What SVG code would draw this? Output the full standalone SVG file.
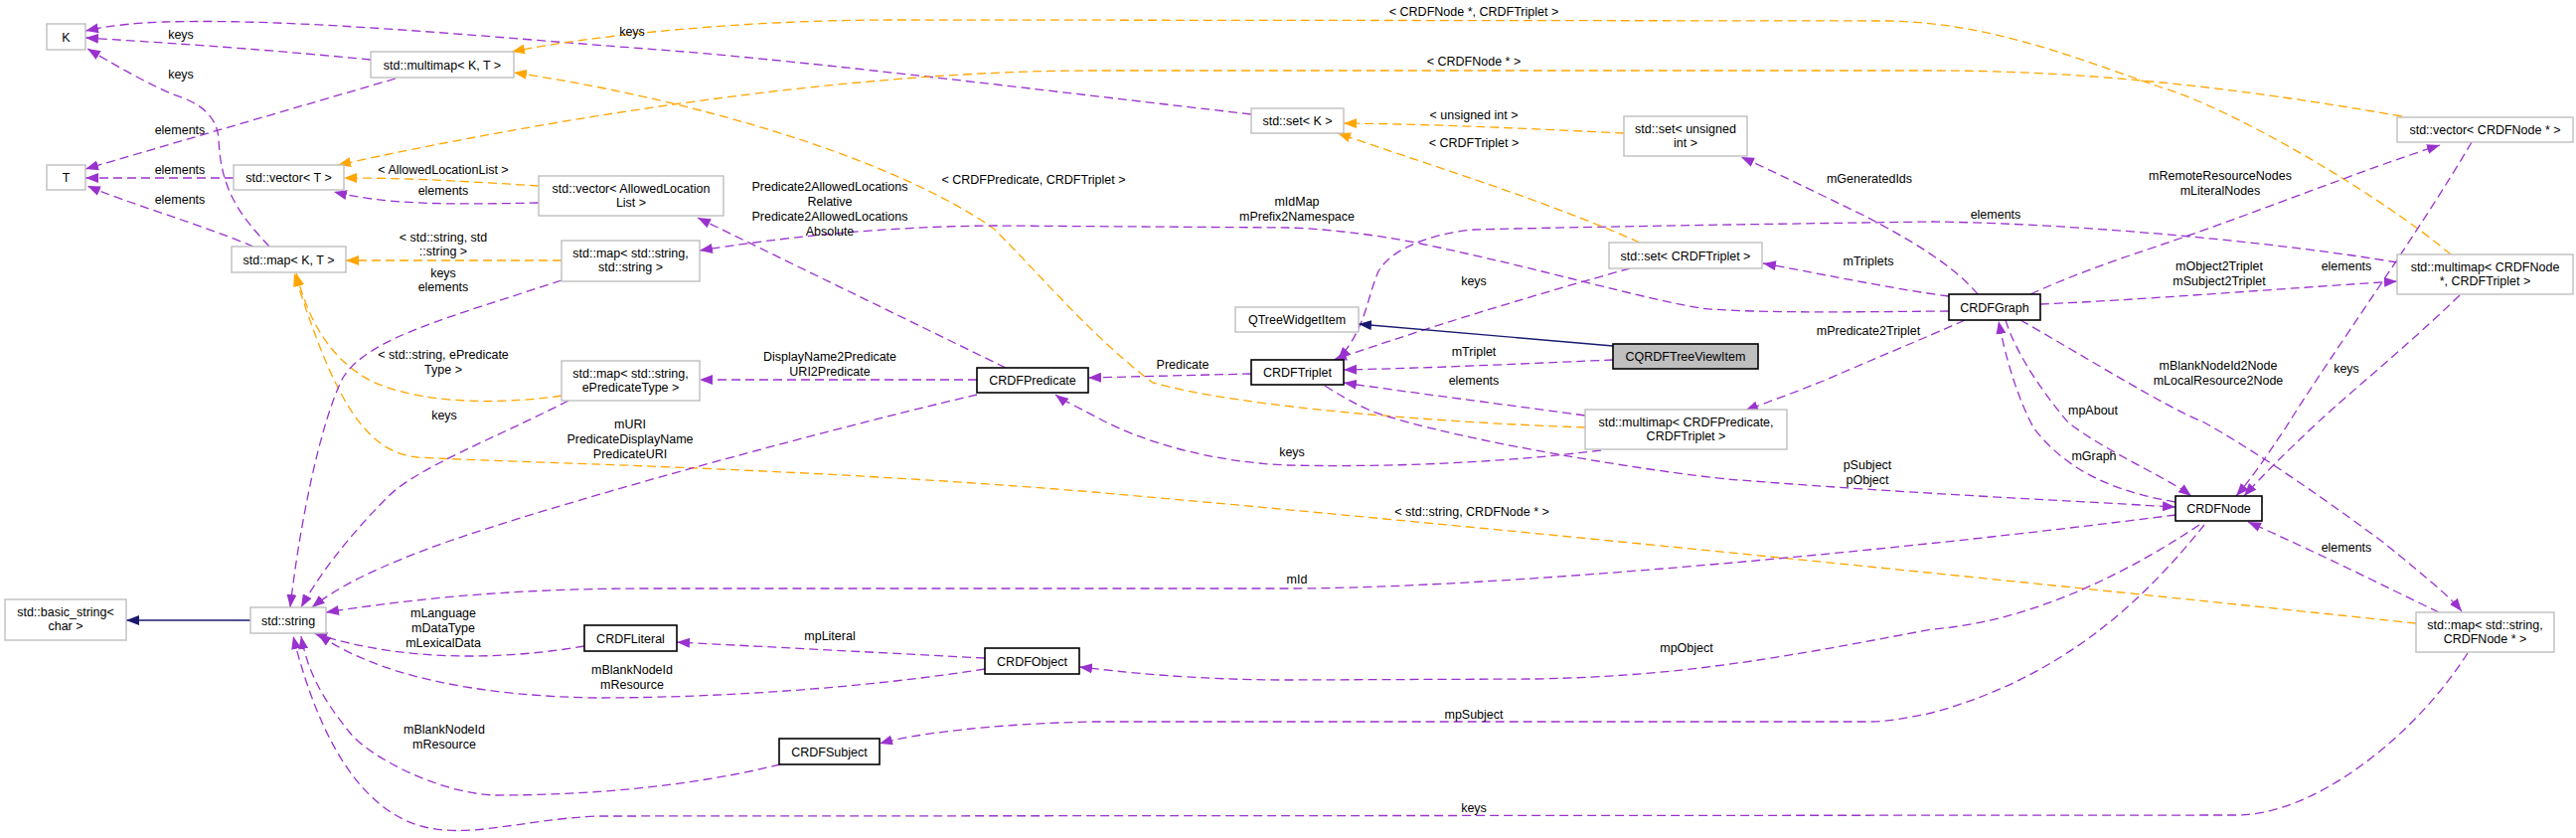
<svg xmlns="http://www.w3.org/2000/svg" width="2592" height="843" viewBox="0 0 2592 843">
<style>
text{font-family:"Liberation Sans",Arial,Helvetica,sans-serif;font-size:12.5px;fill:#000}
.nt{text-anchor:middle}
.lbl{text-anchor:middle}
.bx{fill:#fff;stroke:#bfbfbf;stroke-width:1.4}
.bd{fill:#fff;stroke:#000;stroke-width:1.6}
.bs{fill:#bfbfbf;stroke:#000;stroke-width:1.6}
.p{fill:none;stroke:#9a32cd;stroke-width:1.3;stroke-dasharray:9,5;marker-end:url(#ap)}
.o{fill:none;stroke:#ffa500;stroke-width:1.3;stroke-dasharray:9,5;marker-end:url(#ao)}
.b{fill:none;stroke:#191970;stroke-width:1.4;marker-end:url(#ab)}
</style>
<defs>
<marker id="ap" viewBox="0 0 13 10" refX="13" refY="5" markerWidth="13" markerHeight="10" markerUnits="userSpaceOnUse" orient="auto"><path d="M0,0 L13,5 L0,10 z" fill="#9a32cd"/></marker>
<marker id="ao" viewBox="0 0 13 10" refX="13" refY="5" markerWidth="13" markerHeight="10" markerUnits="userSpaceOnUse" orient="auto"><path d="M0,0 L13,5 L0,10 z" fill="#ffa500"/></marker>
<marker id="ab" viewBox="0 0 13 10" refX="13" refY="5" markerWidth="13" markerHeight="10" markerUnits="userSpaceOnUse" orient="auto"><path d="M0,0 L13,5 L0,10 z" fill="#191970"/></marker>
</defs>
<rect width="2592" height="843" fill="#fff"/>
<g id="connectors">
<path class="p" d="M373,60 C250,48 150,42 86,38"/>
<path class="p" d="M271,248 C240,215 222,190 220,140 C218,110 190,100 174,95 C140,80 110,62 88,49"/>
<path class="p" d="M1259,115 C1000,85 800,60 650,49 C500,38 300,18 166,22 C130,23 105,27 86,31"/>
<path class="p" d="M398,79 L86,170"/>
<path class="p" d="M235,179 L86,179"/>
<path class="p" d="M255,248 C200,225 130,205 88,187"/>
<path class="o" d="M542,187 C450,181 400,179 346,179"/>
<path class="p" d="M542,204 C450,206 390,206 336,193"/>
<path class="o" d="M2417,117 C2250,88 2100,71 1944,71 L1100,71 C850,71 550,120 340,166"/>
<path class="o" d="M2466,256 C2400,200 2250,110 2172,87 C2080,55 2000,23 1900,21 L900,20 C750,20 600,35 515,52"/>
<path class="o" d="M1595,430 C1450,425 1250,410 1160,385 C1100,340 1050,280 1000,230 C900,160 700,100 517,73"/>
<path class="o" d="M565,262 L348,262"/>
<path class="o" d="M565,398 C520,405 430,410 373,383 C330,360 310,320 298,275"/>
<path class="o" d="M2431,627 C2100,592 1500,530 1100,495 C800,470 500,465 420,460 C360,455 330,380 296,275"/>
<path class="p" d="M565,282 C450,320 370,340 345,380 C320,430 300,540 292,611"/>
<path class="p" d="M572,403 C500,440 420,470 390,500 C350,540 320,580 303,611"/>
<path class="p" d="M983,397 C800,440 550,510 450,545 C380,570 340,590 314,611"/>
<path class="p" d="M2189,518 C1900,555 1500,592 1296,592 L650,592 C500,592 400,605 328,616"/>
<path class="p" d="M588,650 C500,665 400,665 316,637"/>
<path class="p" d="M991,673 C850,695 700,702 600,702 C480,700 380,680 320,638"/>
<path class="p" d="M785,769 C700,790 600,800 498,800 C440,798 370,760 352,737 C330,710 310,680 303,640"/>
<path class="p" d="M2483,657 C2430,740 2330,820 2250,820 L600,821 C520,825 470,845 420,830 C360,810 320,740 295,640"/>
<path class="b" d="M252,624 L127,624"/>
<path class="p" d="M991,662 L681,646"/>
<path class="p" d="M2213,528 C2150,570 2050,625 1944,633 C1800,660 1700,680 1545,683 L1296,684 C1200,684 1130,676 1086,671"/>
<path class="p" d="M2218,528 C2160,600 2080,680 1944,717 C1920,722 1900,726 1880,726 L1100,726 C1000,728 920,738 885,748"/>
<path class="p" d="M1259,376 L1095,380"/>
<path class="p" d="M1012,370 L702,219"/>
<path class="p" d="M983,382 L704,382"/>
<path class="p" d="M1961,313 C1850,314 1760,315 1711,310 C1650,300 1550,270 1429,245 C1380,235 1330,230 1296,229 L1000,227 C880,228 780,240 704,252"/>
<path class="p" d="M1990,296 C1960,260 1900,230 1876,217 C1830,195 1790,175 1752,158"/>
<path class="p" d="M1961,298 C1900,290 1820,273 1774,265"/>
<path class="p" d="M1977,322 C1960,330 1900,355 1835,383 C1800,397 1780,404 1756,413"/>
<path class="p" d="M2043,296 C2100,270 2150,255 2193,240 C2280,210 2380,170 2455,146"/>
<path class="p" d="M2053,306 C2150,302 2300,290 2412,283"/>
<path class="p" d="M2189,505 C2130,495 2080,475 2046,430 C2030,400 2018,360 2011,323"/>
<path class="p" d="M2018,322 C2030,360 2060,400 2081,425 C2120,455 2180,480 2205,499"/>
<path class="p" d="M2033,322 C2100,360 2180,410 2218,425 C2280,460 2350,510 2400,547 C2440,580 2465,600 2477,615"/>
<path class="p" d="M2487,143 C2430,240 2350,350 2300,430 C2280,460 2265,482 2250,499"/>
<path class="p" d="M2475,297 C2420,350 2370,390 2332,425 C2300,455 2275,480 2258,499"/>
<path class="p" d="M2454,616 C2400,590 2330,555 2262,525"/>
<path class="p" d="M2412,264 C2300,245 2100,225 1944,223 C1800,225 1600,228 1483,231 C1440,235 1400,250 1387,273 C1375,300 1375,330 1346,362"/>
<path class="p" d="M1640,270 C1550,295 1450,325 1342,362"/>
<path class="o" d="M1650,244 C1550,200 1450,170 1346,134"/>
<path class="o" d="M1634,134 C1550,130 1450,125 1352,124"/>
<path class="b" d="M1623,348 L1367,326"/>
<path class="p" d="M1623,362 C1550,365 1450,370 1352,372"/>
<path class="p" d="M1595,418 C1500,405 1420,395 1352,385"/>
<path class="p" d="M1611,453 C1500,467 1380,470 1296,468 C1220,465 1150,445 1104,420 C1085,410 1070,403 1062,397"/>
<path class="p" d="M1333,388 C1360,405 1380,415 1400,420 C1500,450 1700,480 1752,483 C1900,495 2050,502 2189,510"/>
<g id="edge-labels">
<text class="lbl" x="182" y="39">keys</text>
<text class="lbl" x="182" y="79">keys</text>
<text class="lbl" x="636" y="36">keys</text>
<text class="lbl" x="181" y="135">elements</text>
<text class="lbl" x="181" y="175">elements</text>
<text class="lbl" x="181" y="205">elements</text>
<text class="lbl" x="446" y="175">&lt; AllowedLocationList &gt;</text>
<text class="lbl" x="446" y="196">elements</text>
<text class="lbl" x="1483" y="66">&lt; CRDFNode * &gt;</text>
<text class="lbl" x="1483" y="16">&lt; CRDFNode *, CRDFTriplet &gt;</text>
<text class="lbl" x="1040" y="185">&lt; CRDFPredicate, CRDFTriplet &gt;</text>
<text class="lbl" x="446" y="243">&lt; std::string, std</text>
<text class="lbl" x="446" y="257">::string &gt;</text>
<text class="lbl" x="446" y="361">&lt; std::string, ePredicate</text>
<text class="lbl" x="446" y="376">Type &gt;</text>
<text class="lbl" x="1481" y="519">&lt; std::string, CRDFNode * &gt;</text>
<text class="lbl" x="446" y="279">keys</text>
<text class="lbl" x="446" y="293">elements</text>
<text class="lbl" x="447" y="422">keys</text>
<text class="lbl" x="634" y="431">mURI</text>
<text class="lbl" x="634" y="446">PredicateDisplayName</text>
<text class="lbl" x="634" y="461">PredicateURI</text>
<text class="lbl" x="1305" y="587">mId</text>
<text class="lbl" x="446" y="621">mLanguage</text>
<text class="lbl" x="446" y="636">mDataType</text>
<text class="lbl" x="446" y="651">mLexicalData</text>
<text class="lbl" x="636" y="678">mBlankNodeId</text>
<text class="lbl" x="636" y="693">mResource</text>
<text class="lbl" x="447" y="738">mBlankNodeId</text>
<text class="lbl" x="447" y="753">mResource</text>
<text class="lbl" x="1483" y="817">keys</text>
<text class="lbl" x="835" y="644">mpLiteral</text>
<text class="lbl" x="1697" y="656">mpObject</text>
<text class="lbl" x="1483" y="723">mpSubject</text>
<text class="lbl" x="1190" y="371">Predicate</text>
<text class="lbl" x="835" y="192">Predicate2AllowedLocations</text>
<text class="lbl" x="835" y="207">Relative</text>
<text class="lbl" x="835" y="222">Predicate2AllowedLocations</text>
<text class="lbl" x="835" y="237">Absolute</text>
<text class="lbl" x="835" y="363">DisplayName2Predicate</text>
<text class="lbl" x="835" y="378">URI2Predicate</text>
<text class="lbl" x="1305" y="207">mIdMap</text>
<text class="lbl" x="1305" y="222">mPrefix2Namespace</text>
<text class="lbl" x="1881" y="184">mGeneratedIds</text>
<text class="lbl" x="1880" y="267">mTriplets</text>
<text class="lbl" x="1880" y="337">mPredicate2Triplet</text>
<text class="lbl" x="2234" y="181">mRemoteResourceNodes</text>
<text class="lbl" x="2234" y="196">mLiteralNodes</text>
<text class="lbl" x="2233" y="272">mObject2Triplet</text>
<text class="lbl" x="2233" y="287">mSubject2Triplet</text>
<text class="lbl" x="2106" y="417">mpAbout</text>
<text class="lbl" x="2107" y="463">mGraph</text>
<text class="lbl" x="2232" y="372">mBlankNodeId2Node</text>
<text class="lbl" x="2232" y="387">mLocalResource2Node</text>
<text class="lbl" x="2361" y="272">elements</text>
<text class="lbl" x="2361" y="375">keys</text>
<text class="lbl" x="2361" y="555">elements</text>
<text class="lbl" x="2008" y="220">elements</text>
<text class="lbl" x="1483" y="287">keys</text>
<text class="lbl" x="1483" y="148">&lt; CRDFTriplet &gt;</text>
<text class="lbl" x="1483" y="120">&lt; unsigned int &gt;</text>
<text class="lbl" x="1483" y="358">mTriplet</text>
<text class="lbl" x="1483" y="387">elements</text>
<text class="lbl" x="1300" y="459">keys</text>
<text class="lbl" x="1879" y="472">pSubject</text>
<text class="lbl" x="1879" y="487">pObject</text>
</g>
</g>
<g id="node-K"><rect class="bx" x="47" y="24" width="39" height="26"/><text class="nt" x="66.5" y="41.5">K</text></g>
<g id="node-T"><rect class="bx" x="47" y="166" width="39" height="25"/><text class="nt" x="66.5" y="183">T</text></g>
<g id="node-multimapKT"><rect class="bx" x="373" y="52" width="144" height="26"/><text class="nt" x="445" y="69.5">std::multimap&lt; K, T &gt;</text></g>
<g id="node-vectorT"><rect class="bx" x="235" y="166" width="111" height="25"/><text class="nt" x="290.5" y="183">std::vector&lt; T &gt;</text></g>
<g id="node-vectorALL"><rect class="bx" x="542" y="177" width="186" height="40"/><text class="nt" x="635" y="193.5">std::vector&lt; AllowedLocation</text><text class="nt" x="635" y="208">List &gt;</text></g>
<g id="node-mapKT"><rect class="bx" x="233" y="248" width="115" height="26"/><text class="nt" x="290.5" y="265.5">std::map&lt; K, T &gt;</text></g>
<g id="node-mapSS"><rect class="bx" x="565" y="242" width="139" height="41"/><text class="nt" x="634.5" y="258.5">std::map&lt; std::string,</text><text class="nt" x="634.5" y="273">std::string &gt;</text></g>
<g id="node-mapSE"><rect class="bx" x="565" y="363" width="139" height="40"/><text class="nt" x="634.5" y="379.5">std::map&lt; std::string,</text><text class="nt" x="634.5" y="394">ePredicateType &gt;</text></g>
<g id="node-setK"><rect class="bx" x="1259" y="109" width="93" height="25"/><text class="nt" x="1305.5" y="126">std::set&lt; K &gt;</text></g>
<g id="node-QTreeWidgetItem"><rect class="bx" x="1243" y="309" width="124" height="25"/><text class="nt" x="1305" y="326">QTreeWidgetItem</text></g>
<g id="node-CRDFPredicate"><rect class="bd" x="983" y="370" width="112" height="25"/><text class="nt" x="1039" y="387">CRDFPredicate</text></g>
<g id="node-CRDFTriplet"><rect class="bd" x="1259" y="362" width="93" height="25"/><text class="nt" x="1305.5" y="379">CRDFTriplet</text></g>
<g id="node-setUI"><rect class="bx" x="1634" y="117" width="124" height="40"/><text class="nt" x="1696" y="133.5">std::set&lt; unsigned</text><text class="nt" x="1696" y="148">int &gt;</text></g>
<g id="node-setT"><rect class="bx" x="1619" y="244" width="154" height="26"/><text class="nt" x="1696" y="261.5">std::set&lt; CRDFTriplet &gt;</text></g>
<g id="node-CQRDFTreeViewItem"><rect class="bs" x="1623" y="346" width="146" height="25"/><text class="nt" x="1696" y="363">CQRDFTreeViewItem</text></g>
<g id="node-multimapPT"><rect class="bx" x="1595" y="412" width="203" height="40"/><text class="nt" x="1696.5" y="428.5">std::multimap&lt; CRDFPredicate,</text><text class="nt" x="1696.5" y="443">CRDFTriplet &gt;</text></g>
<g id="node-vectorN"><rect class="bx" x="2412" y="118" width="177" height="25"/><text class="nt" x="2500.5" y="135">std::vector&lt; CRDFNode * &gt;</text></g>
<g id="node-multimapNT"><rect class="bx" x="2412" y="256" width="177" height="40"/><text class="nt" x="2500.5" y="272.5">std::multimap&lt; CRDFNode</text><text class="nt" x="2500.5" y="287">*, CRDFTriplet &gt;</text></g>
<g id="node-CRDFGraph"><rect class="bd" x="1961" y="296" width="92" height="26"/><text class="nt" x="2007" y="313.5">CRDFGraph</text></g>
<g id="node-basic_string"><rect class="bx" x="5" y="603" width="122" height="41"/><text class="nt" x="66" y="619.5">std::basic_string&lt;</text><text class="nt" x="66" y="634">char &gt;</text></g>
<g id="node-string"><rect class="bx" x="252" y="611" width="76" height="26"/><text class="nt" x="290" y="628.5">std::string</text></g>
<g id="node-CRDFLiteral"><rect class="bd" x="588" y="629" width="93" height="26"/><text class="nt" x="634.5" y="646.5">CRDFLiteral</text></g>
<g id="node-CRDFObject"><rect class="bd" x="991" y="652" width="95" height="26"/><text class="nt" x="1038.5" y="669.5">CRDFObject</text></g>
<g id="node-CRDFSubject"><rect class="bd" x="784" y="743" width="101" height="26"/><text class="nt" x="834.5" y="760.5">CRDFSubject</text></g>
<g id="node-CRDFNode"><rect class="bd" x="2189" y="499" width="87" height="25"/><text class="nt" x="2232.5" y="516">CRDFNode</text></g>
<g id="node-mapSN"><rect class="bx" x="2431" y="616" width="139" height="40"/><text class="nt" x="2500.5" y="632.5">std::map&lt; std::string,</text><text class="nt" x="2500.5" y="647">CRDFNode * &gt;</text></g>
</svg>
